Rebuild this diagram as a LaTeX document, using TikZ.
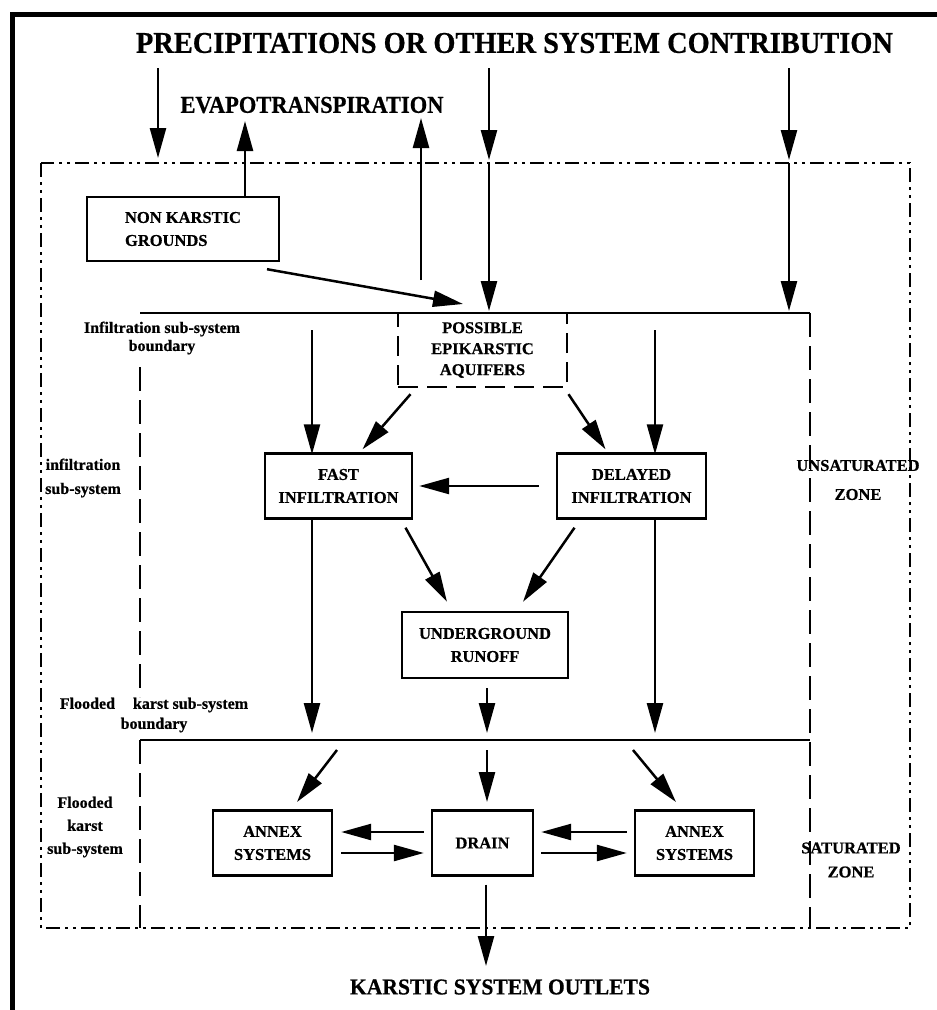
\documentclass[tikz,border=0pt]{standalone}
\usepackage{fontspec}
\setmainfont{Liberation Serif}[BoldFeatures={FakeBold=0.6}]
\usetikzlibrary{arrows.meta}
\newcommand{\fitto}[3]{\resizebox{#1}{#2}{\bfseries #3}}
\begin{document}
\begin{tikzpicture}[x=1pt,y=-1pt,
  box/.style={draw,line width=2.4pt,inner sep=0pt,align=center,
    font=\fontsize{16.5}{23}\selectfont\bfseries},
  dbox/.style={box,dash pattern=on 20pt off 9pt},
  lbl/.style={inner sep=0pt,align=center,font=\fontsize{16}{18}\selectfont\bfseries},
  arr/.style={line width=2.5pt,-{Triangle[length=30pt,width=16pt]}},
  dashdot/.style={line width=2.5pt,dash pattern=on 14pt off 5pt on 3pt off 5pt on 3pt off 5pt},
  ldash/.style={line width=2.4pt,dash pattern=on 24pt off 9pt},
  solidl/.style={line width=2.4pt}]
\fill[white] (0,0) rectangle (937,1010);
\useasboundingbox (0,0) rectangle (937,1010);
% frame
\draw[line width=5pt] (12.5,1010) -- (12.5,14.5) -- (937,14.5);
% titles
\node[inner sep=0pt] (prec) at (514.5,43) {\fitto{757pt}{20pt}{PRECIPITATIONS OR OTHER SYSTEM CONTRIBUTION}};
\node[inner sep=0pt] (evap) at (312,105) {\fitto{263pt}{16pt}{EVAPOTRANSPIRATION}};
\node[inner sep=0pt] (outl) at (500,987) {\fitto{300pt}{15pt}{KARSTIC SYSTEM OUTLETS}};
% zones
\draw[dashdot] (41,163) rectangle (910,928);
\draw[solidl] (140,313) -- (810,313);
\draw[solidl] (140,740) -- (810,740);
\draw[ldash] (810,313) -- (810,928);
\draw[ldash] (140,367) -- (140,697);
\draw[ldash] (140,740) -- (140,928);
% labels
\node[lbl] (infb) at (162,338) {Infiltration sub-system\\boundary};
\node[lbl,font=\fontsize{16}{24}\selectfont\bfseries] (infs) at (83,478) {infiltration\\sub-system};
\node[lbl,font=\fontsize{16}{20}\selectfont\bfseries] (flb) at (154,715) {Flooded\hspace{14pt} karst sub-system\\boundary};
\node[lbl,font=\fontsize{16}{23}\selectfont\bfseries] (fls) at (85,827) {Flooded\\karst\\sub-system};
\node[lbl,font=\fontsize{16.5}{29}\selectfont\bfseries] (unsat) at (858,480) {UNSATURATED\\ZONE};
\node[lbl,font=\fontsize{16.5}{24}\selectfont\bfseries] (sat) at (851,860) {SATURATED\\ZONE};
% boxes
\node[box,align=left,minimum width=192pt,minimum height=64pt] (nonk) at (183,229) {NON KARSTIC\\GROUNDS};
\node[dbox,minimum width=169pt,minimum height=74pt,font=\fontsize{16.5}{21}\selectfont\bfseries] (poss) at (482.5,350) {POSSIBLE\\EPIKARSTIC\\AQUIFERS};
\node[box,minimum width=147pt,minimum height=65pt] (fast) at (338.5,486) {FAST\\INFILTRATION};
\node[box,minimum width=149pt,minimum height=65pt] (del) at (631.5,486) {DELAYED\\INFILTRATION};
\node[box,minimum width=166pt,minimum height=66pt] (under) at (485,645) {UNDERGROUND\\RUNOFF};
\node[box,minimum width=119pt,minimum height=65pt] (annl) at (272.5,843) {ANNEX\\SYSTEMS};
\node[box,minimum width=101pt,minimum height=65pt] (drain) at (482.5,843) {DRAIN};
\node[box,minimum width=119pt,minimum height=65pt] (annr) at (694.5,843) {ANNEX\\SYSTEMS};
% coordinates
\coordinate (a1s) at (158,68);  \coordinate (a1t) at (158,158);
\coordinate (e1t) at (245,121);
\coordinate (e2s) at (421,280); \coordinate (e2t) at (421,118);
\coordinate (a3s) at (489,68);  \coordinate (a3t) at (489,160);
\coordinate (a3m) at (489,163); \coordinate (a3b) at (489,311);
\coordinate (a4s) at (789,68);  \coordinate (a4t) at (789,160);
\coordinate (a4m) at (789,163); \coordinate (a4b) at (789,311);
\coordinate (nkt) at (463,304);
\coordinate (f1s) at (312,330);
\coordinate (d1s) at (655,330);
\coordinate (fb) at (312,733);
\coordinate (ub) at (487,733);
\coordinate (db) at (655,733);
\coordinate (s1s) at (337,750); \coordinate (s1t) at (297,802);
\coordinate (s2s) at (487,750); \coordinate (s2t) at (487,802);
\coordinate (s3s) at (633,750); \coordinate (s3t) at (676,802);
\coordinate (outt) at (486,966);
% arrows
\draw[arr] (a1s) -- (a1t);
\draw[arr] (nonk.north -| e1t) -- (e1t);
\draw[arr] (e2s) -- (e2t);
\draw[arr] (a3s) -- (a3t);
\draw[arr] (a3m) -- (a3b);
\draw[arr] (a4s) -- (a4t);
\draw[arr] (a4m) -- (a4b);
\draw[arr] ([shift={(84,7)}]nonk.south) -- (nkt);
\draw[arr] ([shift={(-72,6)}]poss.south) -- ([shift={(24,-3)}]fast.north);
\draw[arr] ([shift={(86,6)}]poss.south) -- ([shift={(-26,-3)}]del.north);
\draw[arr] (f1s) -- ([yshift=-2pt]fast.north -| f1s);
\draw[arr] (d1s) -- ([yshift=-2pt]del.north -| d1s);
\draw[arr] ([xshift=-17pt]del.west) -- ([xshift=6pt]fast.east);
\draw[arr] ([shift={(67,8)}]fast.south) -- ([shift={(-38,-9)}]under.north);
\draw[arr] ([shift={(-57,8)}]del.south) -- ([shift={(38,-9)}]under.north);
\draw[arr] (fast.south -| fb) -- (fb);
\draw[arr] ([shift={(2,9)}]under.south) -- (ub);
\draw[arr] (del.south -| db) -- (db);
\draw[arr] (s1s) -- (s1t);
\draw[arr] (s2s) -- (s2t);
\draw[arr] (s3s) -- (s3t);
\draw[arr] ([shift={(-7,-11)}]drain.west) -- ([shift={(8,-11)}]annl.east);
\draw[arr] ([shift={(8,10)}]annl.east) -- ([shift={(-7,10)}]drain.west);
\draw[arr] ([shift={(-7,-11)}]annr.west) -- ([shift={(7,-11)}]drain.east);
\draw[arr] ([shift={(7,10)}]drain.east) -- ([shift={(-7,10)}]annr.west);
\draw[arr] ([shift={(3.5,8)}]drain.south) -- (outt);
\end{tikzpicture}
\end{document}
